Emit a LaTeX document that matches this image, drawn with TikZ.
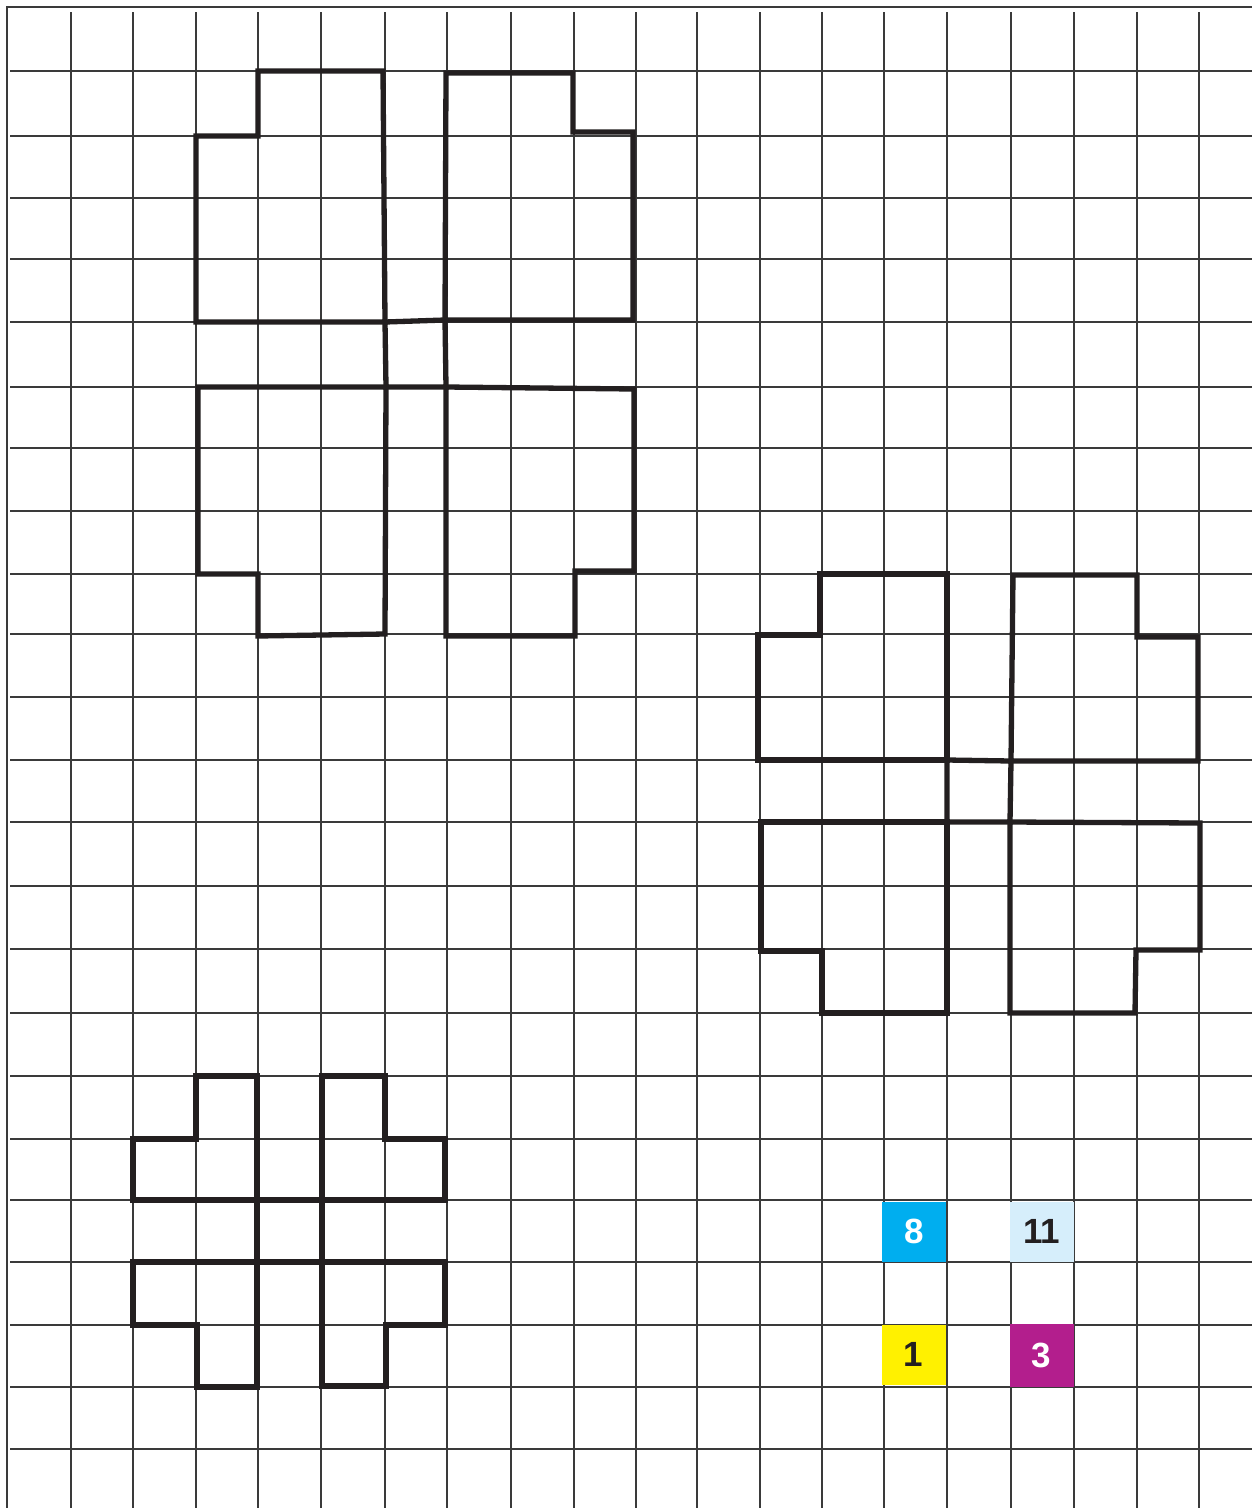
\documentclass[tikz,border=0pt]{standalone}
\usepackage{fontspec}
\setmainfont{Liberation Sans}
\definecolor{gridgray}{HTML}{3A3A3A}
\definecolor{inkblack}{HTML}{231F20}
\definecolor{cyanbox}{HTML}{00AEEF}
\definecolor{paleblue}{HTML}{D6EEFB}
\definecolor{yellowbox}{HTML}{FFF100}
\definecolor{magentabox}{HTML}{B31E8D}
\begin{document}
\begin{tikzpicture}[x=1pt,y=-1pt,
  gridline/.style={line width=1.8pt,draw=gridgray},
  outline/.style={line width=5.3pt,draw=inkblack,line join=miter},
  numbox/.style={inner sep=0pt,minimum width=64pt,minimum height=60pt,
    font=\fontsize{35}{35}\selectfont\bfseries}]
\useasboundingbox (0,0) rectangle (1252,1508);
\fill[white] (0,0) rectangle (1252,1508);
% grid
\foreach \gx in {71,133,196,258,321,385,447,511,574,636,697,760,822,884,947,1011,1074,1137,1199}
  \draw[gridline] (\gx,12) -- (\gx,1508);
\foreach \gy in {71,136,198,259,322,387,448,511,574,634,697,760,822,886,949,1013,1076,1139,1200,1262,1325,1387,1449}
  \draw[gridline] (10,\gy) -- (1252,\gy);
% border
\draw[line width=2pt,draw=gridgray] (7,1508) -- (7,7) -- (1252,7);
% top-left figure
\draw[outline] (258,71)--(383,71)--(385,322)--(196,322)--(196,136)--(258,136)--cycle;
\draw[outline] (446,73)--(573,73)--(573,132)--(633,132)--(633,320)--(445,320)--cycle;
\draw[outline] (385,322)--(445,320)--(446,387)--(386,387)--cycle;
\draw[outline] (198,387)--(386,387)--(385,634)--(258,636)--(258,574)--(198,574)--cycle;
\draw[outline] (446,387)--(634,389)--(634,571)--(575,571)--(575,636)--(446,636)--cycle;
% right figure
\draw[outline] (820,574)--(947,574)--(947,760)--(758,760)--(758,635)--(820,635)--cycle;
\draw[outline] (1013,575)--(1137,575)--(1137,637)--(1198,637)--(1198,761)--(1011,761)--cycle;
\draw[outline] (947,760)--(1011,761)--(1010,822)--(947,822)--cycle;
\draw[outline] (761,822)--(947,822)--(947,1013)--(822,1013)--(822,951)--(761,951)--cycle;
\draw[outline] (1010,822)--(1200,823)--(1200,950)--(1136,950)--(1135,1013)--(1010,1013)--cycle;
% bottom-left figure
\draw[outline] (196,1076)--(257,1076)--(257,1200)--(133,1200)--(133,1139)--(196,1139)--cycle;
\draw[outline] (322,1076)--(385,1076)--(385,1139)--(445,1139)--(445,1200)--(322,1200)--cycle;
\draw[outline] (257,1200)--(322,1200)--(322,1262)--(257,1262)--cycle;
\draw[outline] (133,1262)--(257,1262)--(257,1387)--(197,1387)--(197,1325)--(133,1325)--cycle;
\draw[outline] (322,1262)--(445,1262)--(445,1325)--(386,1325)--(386,1386)--(322,1386)--cycle;
% number boxes
\node[numbox,fill=cyanbox,text=white] (eight) at (914,1231.5) {8};
\node[numbox,fill=paleblue,text=inkblack] (eleven) at (1041.5,1231.5) {11};
\node[numbox,fill=yellowbox,text=inkblack] (one) at (913.5,1354.5) {1};
\node[numbox,fill=magentabox,text=white,minimum height=63pt] (three) at (1041.5,1355.5) {3};
\end{tikzpicture}
\end{document}
